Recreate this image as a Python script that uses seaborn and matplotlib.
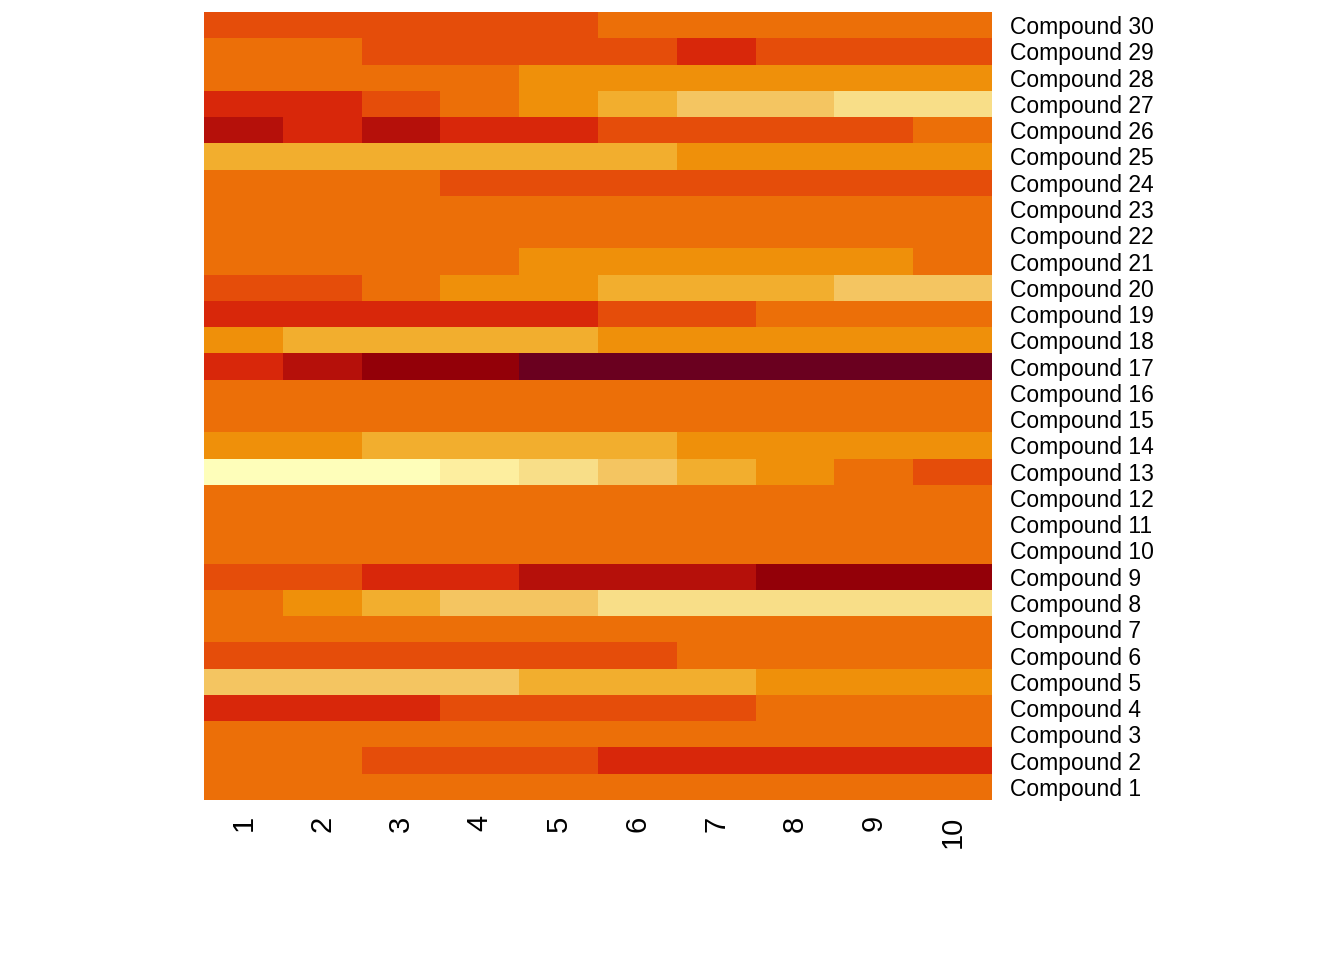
import numpy as np
import pandas as pd
import matplotlib.pyplot as plt
from matplotlib.colors import ListedColormap
import seaborn as sns

# colour level of each cell, Compound 1 .. Compound 30, samples 1..10
values = [
    [6, 6, 6, 6, 6, 6, 6, 6, 6, 6],      # 1
    [6, 6, 7, 7, 7, 8, 8, 8, 8, 8],      # 2
    [6, 6, 6, 6, 6, 6, 6, 6, 6, 6],      # 3
    [8, 8, 8, 7, 7, 7, 7, 6, 6, 6],      # 4
    [3, 3, 3, 3, 4, 4, 4, 5, 5, 5],      # 5
    [7, 7, 7, 7, 7, 7, 6, 6, 6, 6],      # 6
    [6, 6, 6, 6, 6, 6, 6, 6, 6, 6],      # 7
    [6, 5, 4, 3, 3, 2, 2, 2, 2, 2],      # 8
    [7, 7, 8, 8, 9, 9, 9, 10, 10, 10],   # 9
    [6, 6, 6, 6, 6, 6, 6, 6, 6, 6],      # 10
    [6, 6, 6, 6, 6, 6, 6, 6, 6, 6],      # 11
    [6, 6, 6, 6, 6, 6, 6, 6, 6, 6],      # 12
    [0, 0, 0, 1, 2, 3, 4, 5, 6, 7],      # 13
    [5, 5, 4, 4, 4, 4, 5, 5, 5, 5],      # 14
    [6, 6, 6, 6, 6, 6, 6, 6, 6, 6],      # 15
    [6, 6, 6, 6, 6, 6, 6, 6, 6, 6],      # 16
    [8, 9, 10, 10, 11, 11, 11, 11, 11, 11],  # 17
    [5, 4, 4, 4, 4, 5, 5, 5, 5, 5],      # 18
    [8, 8, 8, 8, 8, 7, 7, 6, 6, 6],      # 19
    [7, 7, 6, 5, 5, 4, 4, 4, 3, 3],      # 20
    [6, 6, 6, 6, 5, 5, 5, 5, 5, 6],      # 21
    [6, 6, 6, 6, 6, 6, 6, 6, 6, 6],      # 22
    [6, 6, 6, 6, 6, 6, 6, 6, 6, 6],      # 23
    [6, 6, 6, 7, 7, 7, 7, 7, 7, 7],      # 24
    [4, 4, 4, 4, 4, 4, 5, 5, 5, 5],      # 25
    [9, 8, 9, 8, 8, 7, 7, 7, 7, 6],      # 26
    [8, 8, 7, 6, 5, 4, 3, 3, 2, 2],      # 27
    [6, 6, 6, 6, 5, 5, 5, 5, 5, 5],      # 28
    [6, 6, 7, 7, 7, 7, 8, 7, 7, 7],      # 29
    [7, 7, 7, 7, 7, 6, 6, 6, 6, 6],      # 30
]
compounds = [f"Compound {i}" for i in range(1, 31)]
samples = [str(i) for i in range(1, 11)]
palette = ["#FEFEBA", "#FDEE9F", "#F8DE88", "#F4C561", "#F2AE2E", "#EF900A",
           "#EC6F08", "#E54D0A", "#D8270A", "#B5100A", "#930008", "#6A001F"]

df = pd.DataFrame(values, index=compounds, columns=samples).iloc[::-1]

fig = plt.figure(figsize=(13.44, 9.6), dpi=100)
ax = fig.add_axes([204 / 1344, 1 - 800 / 960, 788 / 1344, 788 / 960])
sns.heatmap(df, ax=ax, cmap=ListedColormap(palette), vmin=-0.5, vmax=11.5,
            cbar=False, linewidths=0)

ax.yaxis.tick_right()
ax.set_yticklabels(df.index, rotation=0, fontsize=16.5, family="Liberation Sans")
ax.set_xticklabels(samples, rotation=90, fontsize=21, family="Liberation Sans")
ax.tick_params(axis="y", length=0, pad=13)
ax.tick_params(axis="x", length=0, pad=11)
ax.set_xlabel("")
ax.set_ylabel("")

fig.savefig("out.png", dpi=100)
